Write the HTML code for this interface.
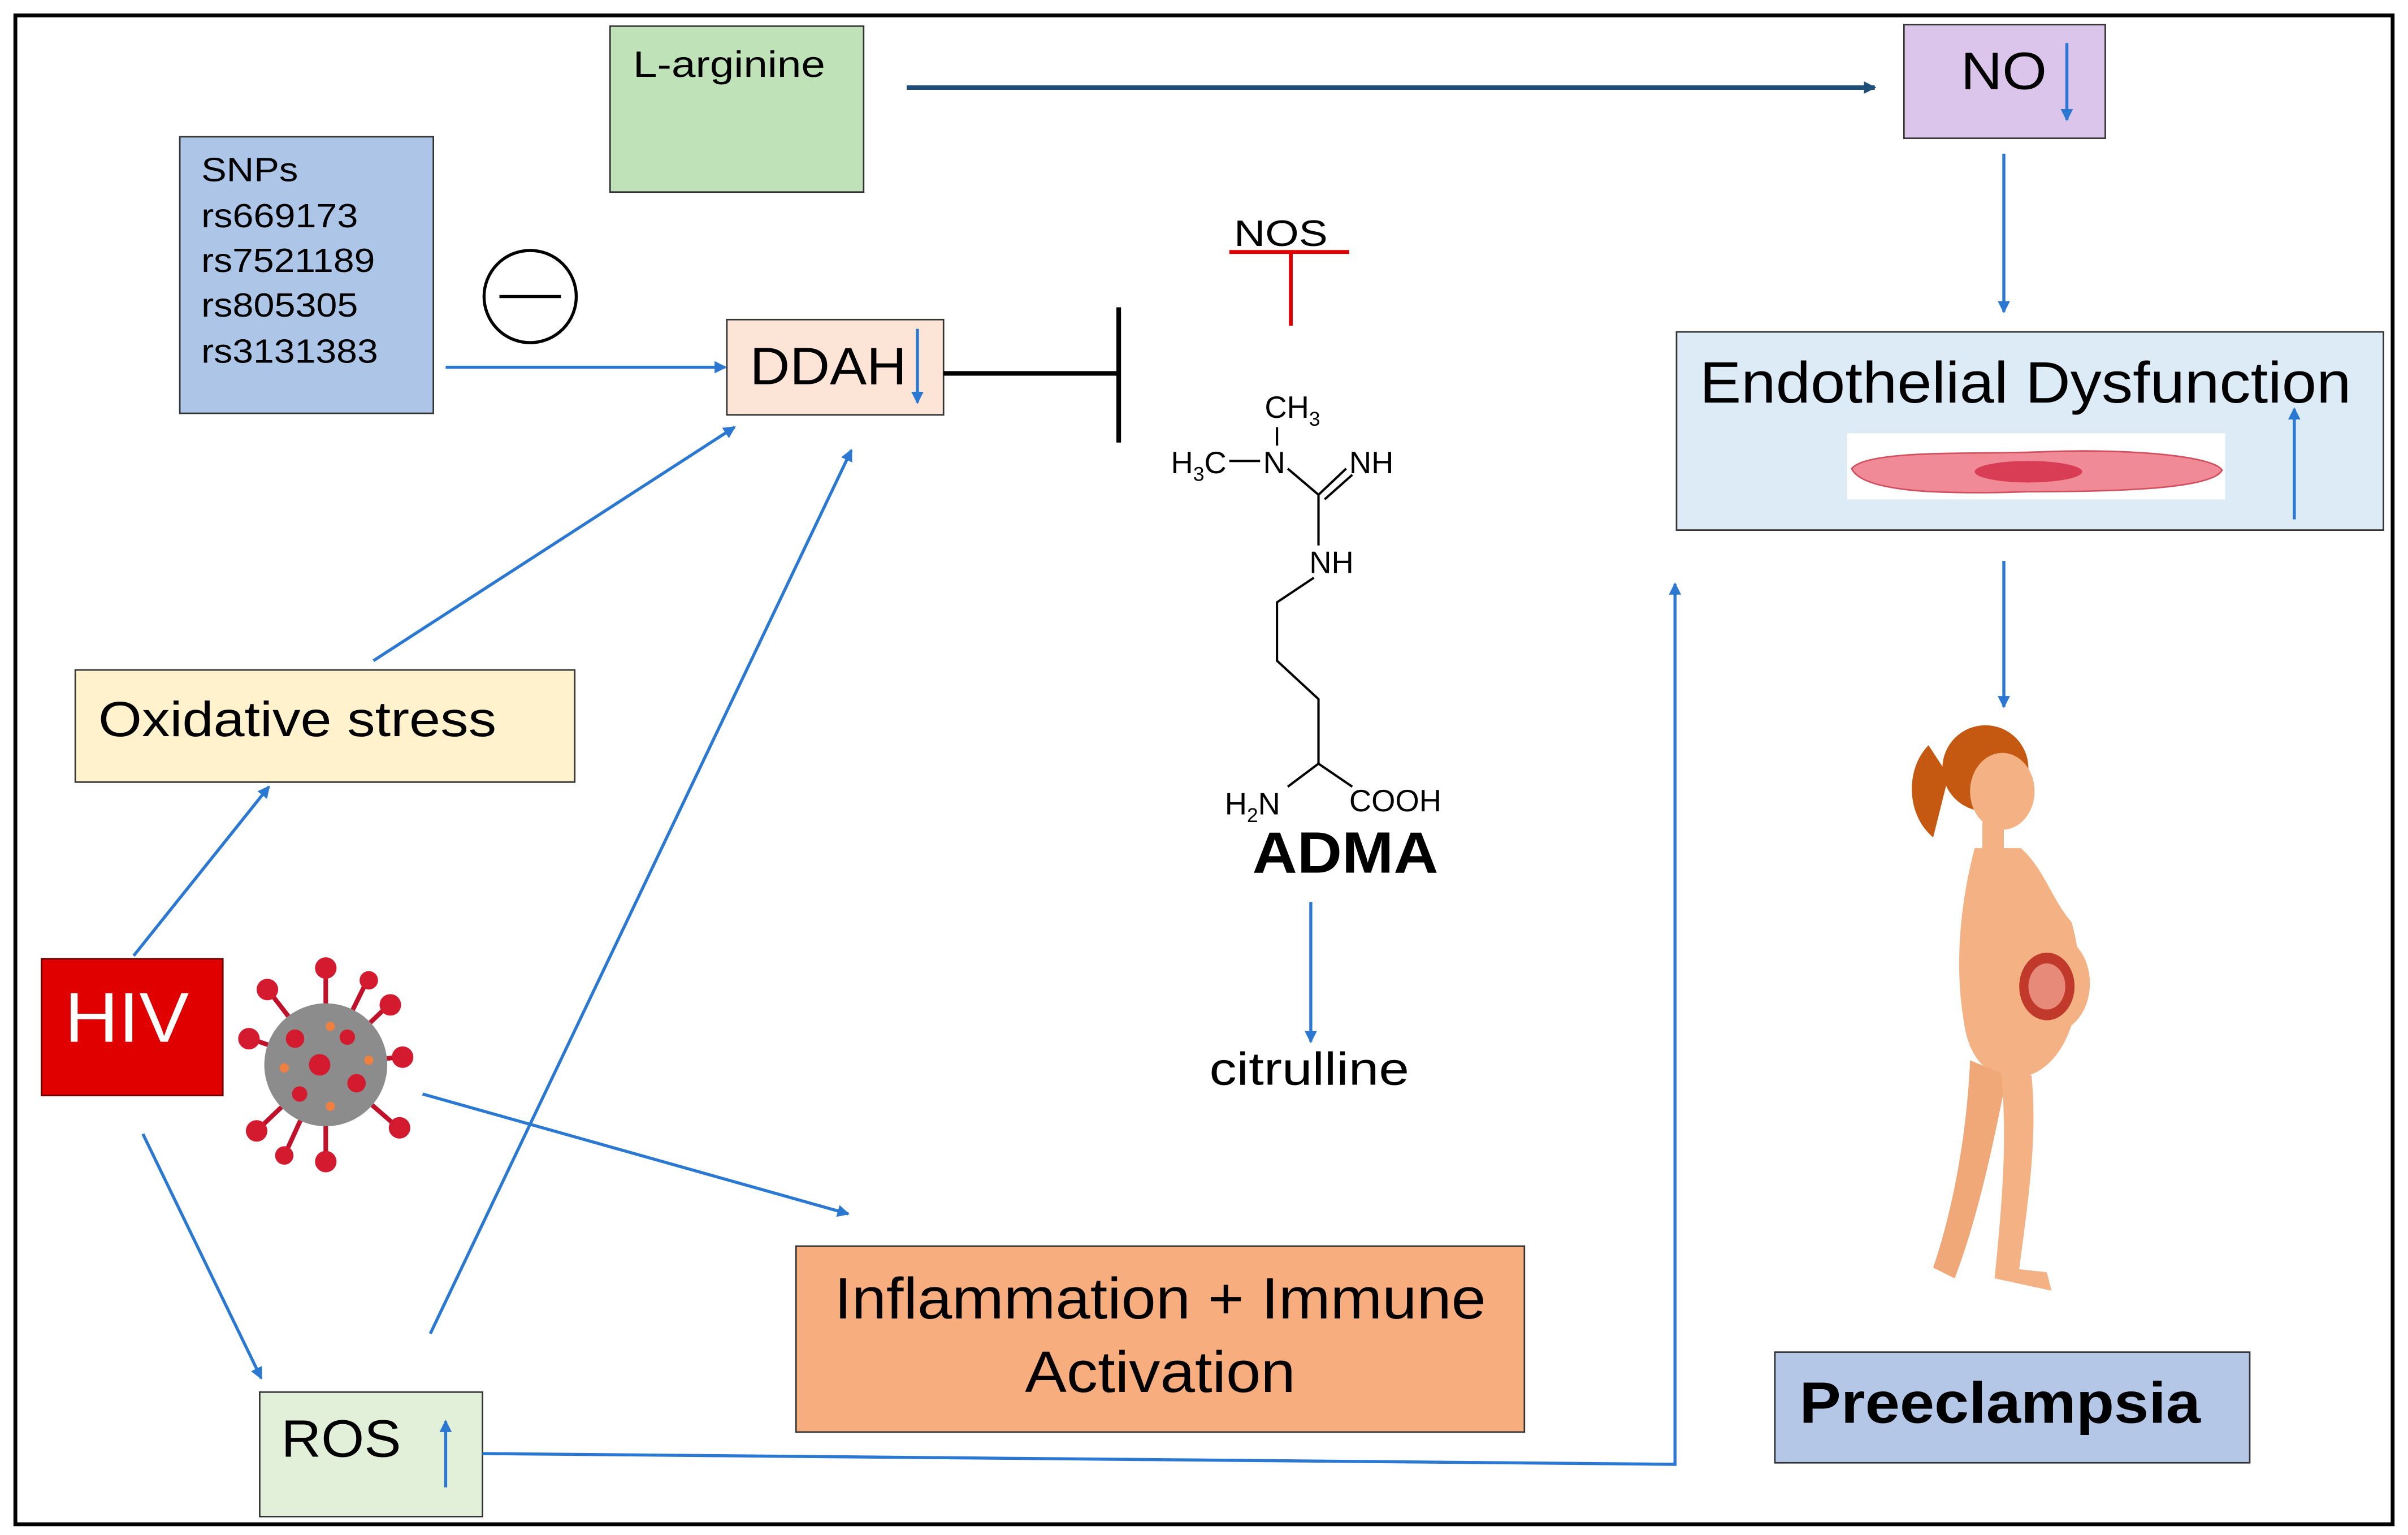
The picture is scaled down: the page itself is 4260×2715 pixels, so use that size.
<!DOCTYPE html>
<html><head><meta charset="utf-8"><style>
html,body{margin:0;padding:0;background:#fff;}
svg{display:block;}
text{font-family:"Liberation Sans",Arial,sans-serif;}
</style></head><body>
<svg width="4260" height="2715" viewBox="0 0 1567 999" preserveAspectRatio="none" xmlns="http://www.w3.org/2000/svg">
<defs>
<marker id="ab" markerWidth="8" markerHeight="8" refX="7" refY="4" orient="auto" markerUnits="userSpaceOnUse"><path d="M0,0 L8,4 L0,8 z" fill="#2a78d2"/></marker>
<marker id="ad" markerWidth="8" markerHeight="8" refX="7" refY="4" orient="auto" markerUnits="userSpaceOnUse"><path d="M0,0 L8,4 L0,8 z" fill="#1f4e79"/></marker>
</defs>
<rect x="0" y="0" width="1567" height="999" fill="#fff"/>
<rect x="10" y="10" width="1547" height="982" fill="none" stroke="#000" stroke-width="2.5"/>

<!-- L-arginine -->
<rect x="397" y="17" width="165" height="108" fill="#bfe2b9" stroke="#333" stroke-width="1"/>
<text x="412" y="50" font-size="24" textLength="125" lengthAdjust="spacingAndGlyphs">L-arginine</text>
<line x1="590" y1="57" x2="1220" y2="57" stroke="#1f4e79" stroke-width="3" marker-end="url(#ad)"/>

<!-- NO -->
<rect x="1239" y="16" width="131" height="74" fill="#dcc5ea" stroke="#333" stroke-width="1"/>
<text x="1276" y="58" font-size="34" textLength="56" lengthAdjust="spacingAndGlyphs">NO</text>
<line x1="1345" y1="28" x2="1345" y2="78" stroke="#2a78d2" stroke-width="2" marker-end="url(#ab)"/>

<!-- SNPs -->
<rect x="117" y="89" width="165" height="180" fill="#adc6e8" stroke="#333" stroke-width="1"/>
<g font-size="22">
<text x="131" y="118" textLength="63" lengthAdjust="spacingAndGlyphs">SNPs</text>
<text x="131" y="148" textLength="102" lengthAdjust="spacingAndGlyphs">rs669173</text>
<text x="131" y="177" textLength="113" lengthAdjust="spacingAndGlyphs">rs7521189</text>
<text x="131" y="206" textLength="102" lengthAdjust="spacingAndGlyphs">rs805305</text>
<text x="131" y="236" textLength="115" lengthAdjust="spacingAndGlyphs">rs3131383</text></g>
<circle cx="345" cy="193" r="30" fill="#fff" stroke="#000" stroke-width="2"/>
<line x1="325" y1="193" x2="365" y2="193" stroke="#000" stroke-width="2"/>
<line x1="290" y1="239" x2="472" y2="239" stroke="#2a78d2" stroke-width="2" marker-end="url(#ab)"/>

<!-- DDAH -->
<rect x="473" y="208" width="141" height="62" fill="#fce4d6" stroke="#333" stroke-width="1"/>
<text x="488" y="250" font-size="34" textLength="102" lengthAdjust="spacingAndGlyphs">DDAH</text>
<line x1="597" y1="214" x2="597" y2="262" stroke="#2a78d2" stroke-width="2" marker-end="url(#ab)"/>
<line x1="614" y1="243" x2="728" y2="243" stroke="#000" stroke-width="3"/>
<line x1="728" y1="200" x2="728" y2="288" stroke="#000" stroke-width="3"/>

<!-- NOS -->
<text x="803" y="160" font-size="24" textLength="61" lengthAdjust="spacingAndGlyphs">NOS</text>
<line x1="800" y1="164" x2="878" y2="164" stroke="#e00000" stroke-width="2.5"/>
<line x1="840" y1="164" x2="840" y2="212" stroke="#e00000" stroke-width="2.5"/>

<!-- ADMA structure -->
<g font-family="Liberation Serif,serif" font-size="20" fill="#000">
<text x="823" y="272">CH<tspan font-size="13" dy="5">3</tspan></text>
<text x="762" y="308">H<tspan font-size="13" dy="5">3</tspan><tspan dy="-5">C</tspan></text>
<text x="822" y="308">N</text>
<text x="878" y="308">NH</text>
<text x="852" y="373">NH</text>
<text x="797" y="530">H<tspan font-size="13" dy="5">2</tspan><tspan dy="-5">N</tspan></text>
<text x="878" y="528">COOH</text>
</g>
<g stroke="#000" stroke-width="1.5" fill="none">
<line x1="831" y1="278" x2="831" y2="290"/>
<line x1="800" y1="300" x2="820" y2="300"/>
<line x1="838" y1="305" x2="858" y2="322"/>
<line x1="858" y1="322" x2="876" y2="305"/>
<line x1="862" y1="325" x2="880" y2="309"/>
<line x1="858" y1="322" x2="858" y2="355"/>
<polyline points="855,376 831,392 831,430 858,455 858,497 838,512"/>
<line x1="858" y1="497" x2="880" y2="512"/>
</g>
<text x="815" y="568" font-size="38" font-weight="bold" textLength="121" lengthAdjust="spacingAndGlyphs">ADMA</text>
<line x1="853" y1="587" x2="853" y2="678" stroke="#2a78d2" stroke-width="2" marker-end="url(#ab)"/>
<text x="787" y="706" font-size="30" textLength="130" lengthAdjust="spacingAndGlyphs">citrulline</text>

<!-- Endothelial -->
<rect x="1091" y="216" width="460" height="129" fill="#ddebf7" stroke="#333" stroke-width="1"/>
<text x="1106" y="262" font-size="38" textLength="424" lengthAdjust="spacingAndGlyphs">Endothelial Dysfunction</text>
<rect x="1202" y="282" width="246" height="43" fill="#fff"/>
<path d="M1205,305 C1215,292 1290,296 1330,294 C1380,292 1440,296 1446,306 C1440,318 1380,320 1320,320 C1260,322 1212,320 1205,305 z" fill="#f08a96" stroke="#d05060" stroke-width="1"/>
<ellipse cx="1320" cy="307" rx="35" ry="7" fill="#d93d55"/>
<line x1="1493" y1="338" x2="1493" y2="266" stroke="#2a78d2" stroke-width="2" marker-end="url(#ab)"/>
<line x1="1304" y1="100" x2="1304" y2="203" stroke="#2a78d2" stroke-width="2" marker-end="url(#ab)"/>
<line x1="1304" y1="365" x2="1304" y2="460" stroke="#2a78d2" stroke-width="2" marker-end="url(#ab)"/>

<!-- Pregnant woman (simplified) -->
<g>
<path d="M1255,485 C1240,500 1240,530 1258,545 L1268,505 z" fill="#c65911"/>
<ellipse cx="1292" cy="500" rx="28" ry="28" fill="#c65911"/>
<ellipse cx="1303" cy="515" rx="21" ry="25" fill="#f4b183"/>
<rect x="1290" y="535" width="14" height="20" fill="#f4b183"/>
<path d="M1285,552 C1275,590 1272,630 1278,665 C1282,695 1300,705 1320,700 C1350,690 1360,640 1348,600 C1335,585 1330,565 1315,552 z" fill="#f4b183"/>
<ellipse cx="1335" cy="640" rx="25" ry="32" fill="#f4b183"/>
<ellipse cx="1332" cy="642" rx="18" ry="22" fill="#c0392b"/>
<ellipse cx="1332" cy="642" rx="12" ry="15" fill="#e88a7a"/>
<path d="M1282,690 C1280,740 1270,790 1258,825 L1272,832 C1288,790 1298,740 1306,700 z" fill="#f0a878"/>
<path d="M1302,695 C1307,745 1302,790 1298,832 L1335,840 L1332,828 L1314,826 C1320,780 1326,740 1322,700 z" fill="#f4b183"/>
</g>

<!-- Preeclampsia -->
<rect x="1155" y="880" width="309" height="72" fill="#b4c7e7" stroke="#333" stroke-width="1"/>
<text x="1171" y="926" font-size="38" font-weight="bold" textLength="261" lengthAdjust="spacingAndGlyphs">Preeclampsia</text>

<!-- Oxidative stress -->
<rect x="49" y="436" width="325" height="73" fill="#fff2cc" stroke="#333" stroke-width="1"/>
<text x="64" y="479" font-size="32" textLength="259" lengthAdjust="spacingAndGlyphs">Oxidative stress</text>
<line x1="243" y1="430" x2="478" y2="278" stroke="#2a78d2" stroke-width="2" marker-end="url(#ab)"/>

<!-- HIV -->
<rect x="27" y="624" width="118" height="89" fill="#e00000" stroke="#600" stroke-width="1"/>
<text x="42" y="678" font-size="46" fill="#fff" textLength="81" lengthAdjust="spacingAndGlyphs">HIV</text>
<g stroke="#c0102a" stroke-width="3">
<line x1="212" y1="693" x2="212" y2="630"/><line x1="212" y1="693" x2="212" y2="756"/>
<line x1="212" y1="693" x2="260" y2="688"/><line x1="212" y1="693" x2="163" y2="676"/>
<line x1="212" y1="693" x2="252" y2="655"/><line x1="212" y1="693" x2="175" y2="645"/>
<line x1="212" y1="693" x2="258" y2="733"/><line x1="212" y1="693" x2="168" y2="735"/>
<line x1="212" y1="693" x2="238" y2="640"/><line x1="212" y1="693" x2="186" y2="750"/>
</g>
<g fill="#d41a2e">
<circle cx="212" cy="630" r="7"/><circle cx="212" cy="756" r="7"/><circle cx="262" cy="688" r="7"/><circle cx="162" cy="676" r="7"/>
<circle cx="254" cy="654" r="7"/><circle cx="174" cy="644" r="7"/><circle cx="260" cy="734" r="7"/><circle cx="167" cy="736" r="7"/>
<circle cx="240" cy="638" r="6"/><circle cx="185" cy="752" r="6"/>
</g>
<circle cx="212" cy="693" r="40" fill="#8c8c8c"/>
<g fill="#d41a2e"><circle cx="208" cy="693" r="7"/><circle cx="192" cy="676" r="6"/><circle cx="232" cy="705" r="6"/><circle cx="226" cy="675" r="5"/><circle cx="195" cy="712" r="5"/></g>
<g fill="#f08040"><circle cx="215" cy="668" r="3"/><circle cx="240" cy="690" r="3"/><circle cx="185" cy="695" r="3"/><circle cx="215" cy="720" r="3"/></g>

<line x1="87" y1="622" x2="175" y2="512" stroke="#2a78d2" stroke-width="2" marker-end="url(#ab)"/>
<line x1="93" y1="738" x2="170" y2="897" stroke="#2a78d2" stroke-width="2" marker-end="url(#ab)"/>
<line x1="275" y1="712" x2="552" y2="790" stroke="#2a78d2" stroke-width="2" marker-end="url(#ab)"/>
<line x1="280" y1="868" x2="554" y2="293" stroke="#2a78d2" stroke-width="2" marker-end="url(#ab)"/>

<!-- Inflammation -->
<rect x="518" y="811" width="474" height="121" fill="#f8ad7e" stroke="#333" stroke-width="1"/>
<text x="543" y="858" font-size="38" textLength="424" lengthAdjust="spacingAndGlyphs">Inflammation + Immune</text>
<text x="667" y="906" font-size="38" textLength="176" lengthAdjust="spacingAndGlyphs">Activation</text>

<!-- ROS -->
<rect x="169" y="906" width="145" height="81" fill="#e2f0d9" stroke="#333" stroke-width="1"/>
<text x="183" y="948" font-size="34" textLength="78" lengthAdjust="spacingAndGlyphs">ROS</text>
<line x1="290" y1="968" x2="290" y2="925" stroke="#2a78d2" stroke-width="2" marker-end="url(#ab)"/>
<polyline points="314,946 1090,953 1090,380" fill="none" stroke="#2a78d2" stroke-width="2" marker-end="url(#ab)"/>
</svg>
</body></html>
